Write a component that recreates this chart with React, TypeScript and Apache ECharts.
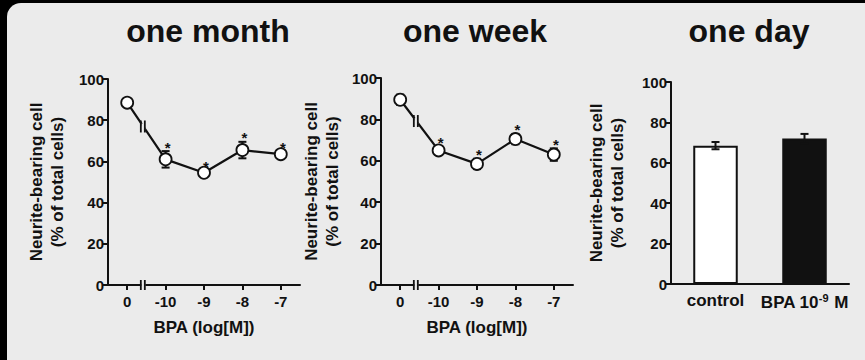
import React, { useEffect, useRef } from "react";
import * as echarts from "echarts";

const concCategories = ["0", "-10", "-9", "-8", "-7"];
const monthMean = [88.5, 61, 54.5, 65.5, 63.5];
const monthErr = [1, 4, 1.2, 4, 1.5];
const monthSig = [0, 1, 1, 1, 1];
const weekMean = [89.5, 65, 58.5, 70.5, 63];
const weekErr = [2.5, 2, 2.5, 2.5, 3];
const weekSig = [0, 1, 1, 1, 1];
const dayCategories = ["control", "BPA 10^-9 M"];
const dayMean = [68.5, 72];
const dayErr = [1.8, 2.3];
const yMin = 0;
const yMax = 100;
const yStep = 20;
const titles = ["one month", "one week", "one day"];
const xName = "BPA (log[M])";
const yName = "Neurite-bearing cell\n(% of total cells)";

const FONT = '"Liberation Sans", Arial, Helvetica, sans-serif';
const BG = "#ebebeb";
const INK = "#111";

function errRender(params: any, api: any) {
  const x = api.value(0);
  const lo = api.value(1);
  const hi = api.value(2);
  const sig = api.value(3);
  const pLo = api.coord([x, lo]);
  const pHi = api.coord([x, hi]);
  const cap = 4;
  const st = { stroke: INK, lineWidth: 2 };
  const children: any[] = [
    { type: "line", shape: { x1: pLo[0], y1: pLo[1], x2: pHi[0], y2: pHi[1] }, style: st },
    { type: "line", shape: { x1: pHi[0] - cap, y1: pHi[1], x2: pHi[0] + cap, y2: pHi[1] }, style: st },
    { type: "line", shape: { x1: pLo[0] - cap, y1: pLo[1], x2: pLo[0] + cap, y2: pLo[1] }, style: st },
  ];
  if (sig) {
    children.push({
      type: "text",
      x: pHi[0] + 2,
      y: pHi[1] - 4,
      style: {
        text: "*",
        fill: INK,
        font: `bold 15px ${FONT}`,
        align: "center",
        verticalAlign: "middle",
      },
    });
  }
  return { type: "group", children };
}

function breakRender(params: any, api: any) {
  const m0 = api.value(1);
  const m1 = api.value(2);
  const t = 0.42;
  const a0 = api.coord([0, yMin]);
  const a1 = api.coord([1, yMin]);
  const ax = a0[0] + t * (a1[0] - a0[0]);
  const ay = a0[1];
  const q0 = api.coord([0, m0]);
  const q1 = api.coord([1, m1]);
  const qx = q0[0] + t * (q1[0] - q0[0]);
  const qy = q0[1] + t * (q1[1] - q0[1]);
  const st = { stroke: INK, lineWidth: 1.8 };
  const mk = (x: number, y: number, h: number) => [
    { type: "rect", shape: { x: x - 2, y: y - 3, width: 4, height: 6 }, style: { fill: BG } },
    { type: "line", shape: { x1: x - 2.5, y1: y - h, x2: x - 2.5, y2: y + h }, style: st },
    { type: "line", shape: { x1: x + 1.5, y1: y - h, x2: x + 1.5, y2: y + h }, style: st },
  ];
  return { type: "group", children: [...mk(ax, ay, 5), ...mk(qx, qy, 6)] };
}

const yAxisBase = (gridIndex: number, gap: number, fs: number) => ({
  type: "value",
  gridIndex,
  min: yMin,
  max: yMax,
  interval: yStep,
  name: yName,
  nameLocation: "middle",
  nameGap: gap,
  nameTextStyle: { fontFamily: FONT, fontWeight: "bold", fontSize: 17, lineHeight: 21, color: INK },
  axisLine: { show: true, lineStyle: { color: INK, width: 2 } },
  axisTick: { show: true, length: 5, lineStyle: { color: INK, width: 2 } },
  axisLabel: { fontFamily: FONT, fontWeight: "bold", fontSize: fs, color: INK, margin: 4 },
  splitLine: { show: false },
});

const xAxisConc = (gridIndex: number) => ({
  type: "category",
  gridIndex,
  data: concCategories,
  boundaryGap: true,
  name: xName,
  nameLocation: "middle",
  nameGap: 34,
  nameTextStyle: { fontFamily: FONT, fontWeight: "bold", fontSize: 17, color: INK },
  axisLine: { show: true, lineStyle: { color: INK, width: 2 } },
  axisTick: { show: true, alignWithLabel: true, length: 5, lineStyle: { color: INK, width: 2 } },
  axisLabel: { fontFamily: FONT, fontWeight: "bold", fontSize: 15, color: INK, margin: 9, interval: 0 },
  splitLine: { show: false },
});

const lineSeries = (idx: number, data: number[]) => ({
  type: "line",
  xAxisIndex: idx,
  yAxisIndex: idx,
  data,
  z: 3,
  symbol: "circle",
  symbolSize: 12,
  lineStyle: { color: INK, width: 2.2 },
  itemStyle: { color: "#fff", borderColor: INK, borderWidth: 1.8 },
});

const errSeries = (idx: number, mean: number[], err: number[], sig: number[]) => ({
  type: "custom",
  xAxisIndex: idx,
  yAxisIndex: idx,
  z: 2,
  renderItem: errRender,
  encode: { x: 0, y: [1, 2] },
  data: mean.map((m, i) => [i, m - err[i], m + err[i], sig[i]]),
});

const breakSeries = (idx: number, mean: number[]) => ({
  type: "custom",
  xAxisIndex: idx,
  yAxisIndex: idx,
  z: 4,
  renderItem: breakRender,
  encode: { x: 0, y: [1, 2] },
  data: [[0, mean[0], mean[1]]],
});

export default function App() {
  const ref = useRef<HTMLDivElement>(null);
  useEffect(() => {
    document.body.style.margin = "0";
    if (!ref.current) return;
    const chart = echarts.init(ref.current, undefined, { renderer: "svg" });
    const titleX = [208, 475, 749];
    chart.setOption({
      animation: false,
      backgroundColor: "transparent",
      graphic: titles.map((t, i) => ({
        type: "text",
        x: titleX[i],
        y: 31,
        style: {
          text: t,
          fill: INK,
          font: `bold 32px ${FONT}`,
          align: "center",
          verticalAlign: "middle",
        },
      })),
      grid: [
        { left: 108, top: 79, width: 192, height: 206 },
        { left: 381, top: 78, width: 192, height: 207 },
        { left: 671, top: 82, width: 178, height: 202 },
      ],
      xAxis: [
        xAxisConc(0),
        xAxisConc(1),
        {
          type: "category",
          gridIndex: 2,
          data: dayCategories,
          boundaryGap: true,
          axisLine: { show: true, lineStyle: { color: INK, width: 2 } },
          axisTick: { show: false },
          axisLabel: {
            fontFamily: FONT,
            fontWeight: "bold",
            fontSize: 17,
            color: INK,
            margin: 8,
            interval: 0,
            hideOverlap: false,
            formatter: (v: string) => v.replace(/\^(-?\d+)/, "{s|$1}"),
            rich: {
              s: { fontFamily: FONT, fontWeight: "bold", fontSize: 11, color: INK, padding: [0, 1, 9, 0] },
            },
          },
          splitLine: { show: false },
        },
      ],
      yAxis: [yAxisBase(0, 40, 15), yAxisBase(1, 38, 15), yAxisBase(2, 43, 15)],
      series: [
        errSeries(0, monthMean, monthErr, monthSig),
        lineSeries(0, monthMean),
        breakSeries(0, monthMean),
        errSeries(1, weekMean, weekErr, weekSig),
        lineSeries(1, weekMean),
        breakSeries(1, weekMean),
        {
          type: "bar",
          xAxisIndex: 2,
          yAxisIndex: 2,
          barWidth: "50%",
          z: 2,
          data: dayMean.map((v, i) => ({
            value: v,
            itemStyle:
              i === 0
                ? { color: "#fff", borderColor: INK, borderWidth: 2 }
                : { color: INK, borderColor: INK, borderWidth: 2 },
          })),
        },
        { ...errSeries(2, dayMean, dayErr, [0, 0]), z: 3 },
      ],
    });
    return () => chart.dispose();
  }, []);
  return (
    <div style={{ position: "relative", width: 865, height: 360, background: "#000", overflow: "hidden" }}>
      <div
        style={{
          position: "absolute",
          left: 7,
          top: 3,
          width: 870,
          height: 360,
          background: BG,
          borderTopLeftRadius: 14,
        }}
      />
      <div ref={ref} style={{ position: "absolute", left: 0, top: 0, width: 865, height: 360 }} />
    </div>
  );
}
